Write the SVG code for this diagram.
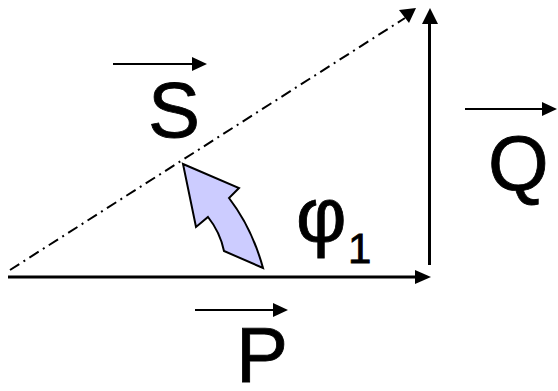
<svg xmlns="http://www.w3.org/2000/svg" width="558" height="391" viewBox="0 0 558 391">
<style>
.lbl{font-family:"Liberation Sans",Arial,sans-serif;font-size:78px;fill:#000;stroke:#000;stroke-width:0.8}
.sub{font-family:"Liberation Sans",Arial,sans-serif;font-size:42px;fill:#000;stroke:#000;stroke-width:0.8}
.ln{stroke:#000;fill:none}
</style>
<rect width="558" height="391" fill="#fff"/>
<g id="connectors">
<line class="ln" x1="8" y1="277" x2="416" y2="277" stroke-width="3"/>
<polygon points="415,270 431,277 415,284" fill="#000"/>
<line class="ln" x1="429.5" y1="265" x2="429.5" y2="22" stroke-width="3"/>
<polygon points="422,24 430,8 438,24" fill="#000"/>
<line class="ln" x1="10" y1="270" x2="405" y2="18" stroke-width="2" stroke-dasharray="11,5,2,5"/>
<polygon points="399,10 416,8 409,23" fill="#000"/>
</g>
<g id="arrowhead-curve">
<path d="M183,164 L239,188 L229,198 Q252,228 263,268 L224,251 Q220,232 208,217 L196,227 Z" fill="#ccccff" stroke="#000" stroke-width="2" stroke-linejoin="miter"/>
</g>
<g id="label-S">
<line class="ln" x1="113" y1="64" x2="194" y2="64" stroke-width="2"/>
<polygon points="192,57 207,64 192,71" fill="#000"/>
<text class="lbl" x="148" y="137">S</text>
</g>
<g id="label-Q">
<line class="ln" x1="465" y1="109" x2="543" y2="109" stroke-width="2"/>
<polygon points="542,102 557,109 542,116" fill="#000"/>
<text class="lbl" x="488" y="190">Q</text>
</g>
<g id="label-P">
<line class="ln" x1="195" y1="310" x2="275" y2="310" stroke-width="2"/>
<polygon points="273,303 288,310 273,317" fill="#000"/>
<text class="lbl" x="236" y="382">P</text>
</g>
<g id="label-phi">
<text class="lbl" x="296" y="242" font-size="74">φ</text>
<text class="sub" x="348" y="263">1</text>
</g>
</svg>
